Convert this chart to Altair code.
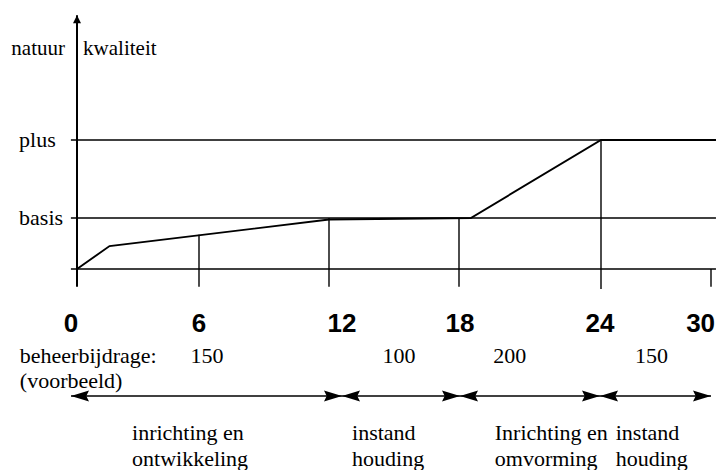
import altair as alt
import pandas as pd

# ---------------- data ----------------
tick_months = [0, 6, 12, 18, 24, 30]
tick_labels = ["0", "6", "12", "18", "24", "30"]

stub_months = [6, 12, 18, 24, 30]
stub_top = [0.67, 1.0, 1.0, 2.0, 0.0]
stub_bottom = [-0.35, -0.35, -0.35, -0.39, -0.35]

level_values = [0, 1, 2]
level_names = ["", "basis", "plus"]

curve_month = [0, 1.6, 12, 18.5, 24, 30.27]
curve_quality = [0, 0.45, 0.97, 1.0, 2.0, 2.0]

phase_start = [0, 12, 18, 24]
phase_end = [12, 18, 24, 30]
phase_amount = ["150", "100", "200", "150"]
phase_name = ["inrichting en\nontwikkeling", "instand\nhouding",
              "Inrichting en\nomvorming", "instand\nhouding"]
amount_month = [6.34, 14.9, 20.13, 26.78]
name_month = [2.86, 12.51, 19.49, 24.85]

axis_top = 3.6
axis_bottom = -0.35
line_left = -0.3
line_right = 30.27
last_label_edge = 30.22   # right edge of the last (clipped) tick label

# ---------------- scales ----------------
SERIF = "Liberation Serif"
SANS = "Liberation Sans"

def x_top(field="m"):
    return alt.X(f"{field}:Q", axis=None,
                 scale=alt.Scale(domain=tick_months,
                                 range=[69, 191, 321, 451, 593, 703],
                                 nice=False, zero=False))

def x_bot(field="m"):
    return alt.X(f"{field}:Q", axis=None,
                 scale=alt.Scale(domain=tick_months,
                                 range=[63, 191, 334, 452, 592, 703],
                                 nice=False, zero=False))

def y_q(field="q"):
    return alt.Y(f"{field}:Q", axis=None,
                 scale=alt.Scale(domain=level_values, range=[261, 210, 132],
                                 nice=False, zero=False))

# ---------------- tables ----------------
levels_df = pd.DataFrame({"q": level_values, "name": level_names,
                          "m": [line_left] * 3, "m2": [line_right] * 3,
                          "lm": [-2.85] * 3})
curve_df = pd.DataFrame({"m": curve_month, "q": curve_quality})
stub_df = pd.DataFrame({"m": stub_months, "q": stub_top, "q2": stub_bottom})
axis_df = pd.DataFrame({"m": [0], "q": [axis_bottom], "q2": [axis_top]})
ticks_df = pd.DataFrame({"m": tick_months[:-1], "t": tick_labels[:-1]})
last_tick_df = pd.DataFrame({"m": [last_label_edge], "t": [tick_labels[-1]]})
phase_df = pd.DataFrame({"s": phase_start, "e": phase_end,
                         "amount": phase_amount, "name": phase_name,
                         "am": amount_month, "nm": name_month})

BLACK = "#000000"

# ---------------- top part ----------------
level_lines = alt.Chart(levels_df).mark_rule(color=BLACK, strokeWidth=1.6).encode(
    x=x_top(), x2="m2:Q", y=y_q())

level_text = alt.Chart(levels_df).transform_filter("datum.name != ''").mark_text(
    font=SERIF, fontSize=22, align="left", baseline="middle", color=BLACK).encode(
    x=x_top("lm"), y=y_q(), text="name:N")

curve = alt.Chart(curve_df).mark_line(color=BLACK, strokeWidth=1.9).encode(
    x=x_top(), y=y_q(), order="m:Q")

stubs = alt.Chart(stub_df).mark_rule(color=BLACK, strokeWidth=1.4).encode(
    x=x_top(), y=y_q(), y2="q2:Q")

y_axis = alt.Chart(axis_df).mark_rule(color=BLACK, strokeWidth=2).encode(
    x=x_top(), y=y_q(), y2="q2:Q")

y_arrow = alt.Chart(axis_df).mark_point(
    shape="M0,0 L-0.5,1 L0.5,1 Z", size=256, filled=True,
    color=BLACK, opacity=1, strokeWidth=0).encode(
    x=x_top(), y=y_q("q2"))

title_left = alt.Chart(pd.DataFrame({"m": [-0.59], "t": ["natuur"]})).mark_text(
    font=SERIF, fontSize=21, align="right", baseline="alphabetic", color=BLACK).encode(
    x=x_top(), y=alt.value(47), text="t:N")
title_right = alt.Chart(pd.DataFrame({"m": [0.30], "t": ["kwaliteit"]})).mark_text(
    font=SERIF, fontSize=21, align="left", baseline="alphabetic", color=BLACK).encode(
    x=x_top(), y=alt.value(47), text="t:N")

# ---------------- bottom part ----------------
num_text = alt.Chart(ticks_df).mark_text(
    font=SANS, fontWeight="bold", fontSize=26, align="center",
    baseline="alphabetic", color=BLACK).encode(
    x=x_bot(), y=alt.value(324), text="t:N")

num_last = alt.Chart(last_tick_df).mark_text(
    font=SANS, fontWeight="bold", fontSize=26, align="right",
    baseline="alphabetic", color=BLACK).encode(
    x=x_bot(), y=alt.value(324), text="t:N")

lbl1 = alt.Chart(pd.DataFrame({"m": [-2.4], "t": ["beheerbijdrage:"]})).mark_text(
    font=SERIF, fontSize=22, align="left", baseline="alphabetic", color=BLACK).encode(
    x=x_bot(), y=alt.value(355), text="t:N")
lbl2 = alt.Chart(pd.DataFrame({"m": [-2.4], "t": ["(voorbeeld)"]})).mark_text(
    font=SERIF, fontSize=22, align="left", baseline="alphabetic", color=BLACK).encode(
    x=x_bot(), y=alt.value(380), text="t:N")

amount_text = alt.Chart(phase_df).mark_text(
    font=SERIF, fontSize=22, align="center", baseline="alphabetic", color=BLACK).encode(
    x=x_bot("am"), y=alt.value(355), text="amount:N")

arrow_line = alt.Chart(pd.DataFrame({"m": [phase_start[0]], "m2": [phase_end[-1]]})).mark_rule(
    color=BLACK, strokeWidth=1.5).encode(
    x=x_bot(), x2="m2:Q", y=alt.value(388))

head_left = alt.Chart(phase_df).mark_point(
    shape="M0,0 L1,-0.3 L0.85,0 L1,0.3 Z", size=1296, filled=True,
    color=BLACK, opacity=1, strokeWidth=0).encode(
    x=x_bot("s"), y=alt.value(388))
head_right = alt.Chart(phase_df).mark_point(
    shape="M0,0 L-1,-0.3 L-0.85,0 L-1,0.3 Z", size=1296, filled=True,
    color=BLACK, opacity=1, strokeWidth=0).encode(
    x=x_bot("e"), y=alt.value(388))

name_text = alt.Chart(phase_df).mark_text(
    font=SERIF, fontSize=22, align="left", baseline="alphabetic",
    lineBreak="\n", lineHeight=26, color=BLACK).encode(
    x=x_bot("nm"), y=alt.value(432), text="name:N")

chart = alt.layer(
    level_lines, curve, stubs, y_axis, y_arrow, level_text, title_left, title_right,
    num_text, num_last, lbl1, lbl2, amount_text, arrow_line, head_left, head_right,
    name_text
).resolve_scale(x="independent", y="independent").properties(
    width=708, height=462, padding=0, autosize="none", background="white"
).configure_view(stroke=None)

chart.save("out.html", embed_options={"renderer": "svg", "actions": False})
